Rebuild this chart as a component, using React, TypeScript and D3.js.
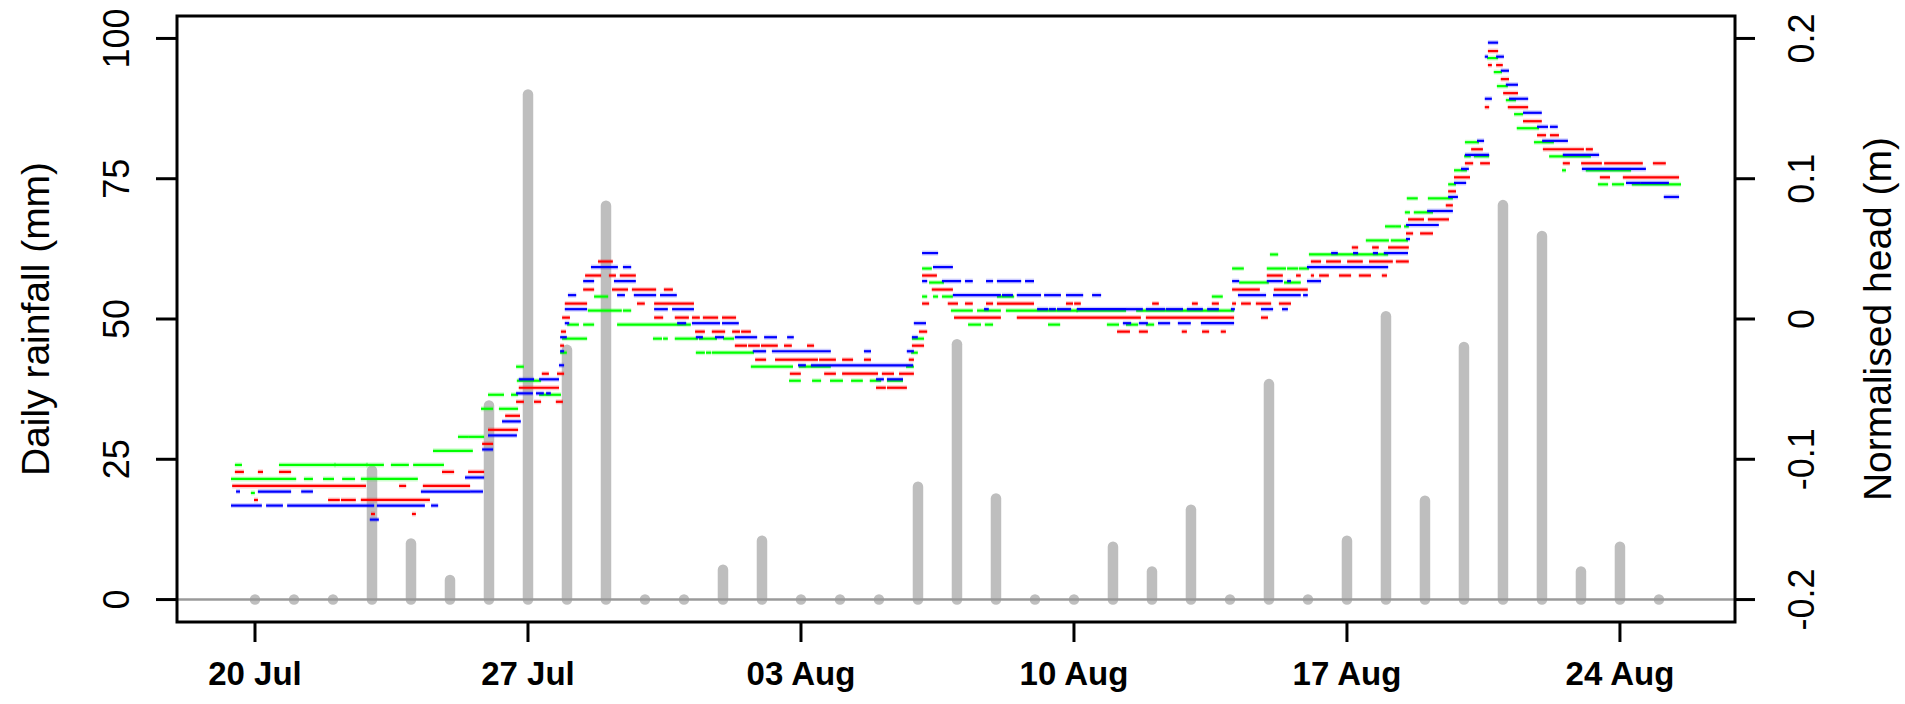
import React from "react";
import * as d3 from "d3";

// ---- data ------------------------------------------------------------
// Daily rainfall (mm), one value per day starting 20 Jul 2015
const rainStart = "2015-07-20";
const rainfall = [
  0, 0, 0, 23, 10, 3.5, 34.6, 90, 44.5, 70.2, 0, 0, 5.3, 10.5, 0, 0, 0, 20.1,
  45.5, 18, 0, 0, 9.4, 5, 16, 0, 38.4, 0, 10.5, 50.5, 17.6, 45, 70.3, 64.8, 5,
  9.4, 0,
];

// Logger readings of normalised head (m). Each entry is a run of
// consecutive readings at one level: [start day, end day, head],
// days counted from 20 Jul 00:00.
type Run = [number, number, number];

const headGreen: Run[] = [
  [-0.59, 1.03, -0.114], [-0.49, -0.36, -0.104], [-0.08, -0.03, -0.124],
  [0.64, 1.36, -0.104], [1.28, 1.46, -0.114], [1.41, 2.05, -0.104],
  [1.77, 2.0, -0.114], [2.05, 2.87, -0.104], [2.26, 2.54, -0.114],
  [2.87, 3.28, -0.104], [2.74, 4.15, -0.114], [3.51, 3.92, -0.104],
  [4.08, 4.82, -0.104], [4.59, 5.56, -0.094], [5.23, 5.44, -0.084],
  [5.49, 5.85, -0.084], [5.82, 6.08, -0.064], [6.28, 6.72, -0.064],
  [6.0, 6.36, -0.054], [6.59, 6.72, -0.054], [6.72, 6.87, -0.034],
  [6.74, 7.31, -0.044], [7.31, 7.82, -0.054], [7.85, 7.97, -0.024],
  [7.9, 8.49, -0.014], [8.03, 8.28, -0.004], [8.44, 8.67, -0.004],
  [8.56, 8.9, 0.006], [8.95, 9.38, 0.006], [9.46, 9.62, 0.006],
  [8.72, 9.03, 0.016], [9.31, 10.95, -0.004], [11.0, 11.15, -0.004],
  [10.23, 10.41, -0.014], [10.49, 10.56, -0.014], [10.79, 11.33, -0.014],
  [11.41, 11.82, -0.014], [12.03, 12.26, -0.014], [11.33, 11.51, -0.024],
  [11.59, 11.67, -0.024], [11.74, 12.77, -0.024], [12.74, 13.77, -0.034],
  [13.97, 14.74, -0.034], [13.72, 13.97, -0.044], [14.31, 14.49, -0.044],
  [14.77, 15.05, -0.044], [15.31, 15.56, -0.044], [15.79, 16.03, -0.044],
  [16.23, 16.59, -0.044], [16.72, 16.87, -0.034], [16.85, 16.97, -0.024],
  [16.87, 17.13, -0.014], [17.13, 17.33, 0.036], [17.31, 17.64, 0.026],
  [17.13, 17.21, 0.016], [17.41, 17.49, 0.016], [17.64, 17.87, 0.016],
  [17.87, 18.38, 0.006], [18.54, 19.1, 0.006], [19.28, 21.08, 0.006],
  [18.31, 18.59, -0.004], [18.74, 18.9, -0.004], [20.36, 20.62, -0.004],
  [19.05, 19.44, 0.016], [21.08, 22.31, 0.006], [22.62, 25.08, 0.006],
  [21.87, 22.13, -0.004], [22.36, 22.62, -0.004], [22.87, 23.03, -0.004],
  [24.56, 24.79, 0.016], [25.08, 25.33, 0.036], [25.26, 25.97, 0.026],
  [26.41, 26.79, 0.026], [26.05, 26.21, 0.046], [25.97, 26.41, 0.036],
  [26.49, 26.72, 0.036], [26.79, 27.0, 0.036], [27.05, 29.03, 0.046],
  [28.51, 29.05, 0.056], [29.15, 29.54, 0.056], [29.0, 29.23, 0.066],
  [29.28, 29.36, 0.066], [29.49, 29.56, 0.066], [29.51, 29.59, 0.076],
  [29.74, 30.18, 0.076], [29.56, 29.79, 0.086], [30.1, 30.69, 0.086],
  [30.62, 30.77, 0.096], [30.77, 31.05, 0.106], [31.03, 31.15, 0.116],
  [31.28, 31.62, 0.116], [31.05, 31.36, 0.126], [31.62, 31.85, 0.186],
  [31.79, 31.95, 0.176], [31.87, 32.1, 0.166], [32.1, 32.31, 0.156],
  [32.31, 32.49, 0.146], [32.38, 32.9, 0.136], [32.82, 33.28, 0.126],
  [33.21, 34.23, 0.116], [33.54, 33.59, 0.106], [34.15, 35.26, 0.106],
  [34.46, 34.67, 0.096], [34.82, 35.08, 0.096], [35.33, 36.54, 0.096],
];

const headRed: Run[] = [
  [-0.56, 2.82, -0.119], [-0.49, -0.31, -0.109], [0.1, 0.18, -0.109],
  [0.64, 0.9, -0.109], [0.0, 0.05, -0.129], [1.9, 2.15, -0.129],
  [2.23, 2.56, -0.129], [2.74, 4.46, -0.129], [3.0, 3.05, -0.139],
  [4.05, 4.1, -0.139], [3.72, 3.85, -0.119], [4.33, 5.49, -0.119],
  [4.82, 5.08, -0.109], [5.49, 5.85, -0.109], [5.85, 6.08, -0.089],
  [6.0, 6.72, -0.079], [6.44, 6.77, -0.069], [6.72, 6.87, -0.059],
  [7.18, 7.31, -0.059], [7.74, 7.87, -0.059], [6.79, 7.77, -0.049],
  [7.38, 7.51, -0.039], [7.77, 7.9, -0.039], [7.85, 7.9, -0.019],
  [7.87, 7.95, -0.009], [7.9, 8.05, 0.001], [7.97, 8.49, 0.011],
  [8.44, 8.67, 0.021], [9.18, 9.54, 0.021], [8.49, 8.85, 0.031],
  [9.1, 9.23, 0.031], [9.38, 9.74, 0.031], [8.82, 9.15, 0.041],
  [9.69, 10.26, 0.021], [10.51, 10.69, 0.021], [9.82, 9.97, 0.011],
  [10.26, 10.59, 0.011], [10.64, 10.95, 0.011], [11.0, 11.23, 0.011],
  [10.26, 10.44, 0.001], [10.79, 11.1, 0.001], [11.23, 11.38, 0.001],
  [11.51, 11.85, 0.001], [12.0, 12.31, 0.001], [11.31, 11.51, -0.009],
  [11.74, 12.03, -0.009], [12.26, 12.41, -0.009], [12.49, 12.69, -0.009],
  [12.33, 12.59, -0.019], [12.67, 12.92, -0.019], [13.0, 13.38, -0.019],
  [13.59, 13.74, -0.019], [14.18, 14.31, -0.019], [12.85, 13.08, -0.029],
  [13.36, 13.9, -0.029], [13.95, 14.41, -0.029], [14.49, 14.87, -0.029],
  [15.08, 15.31, -0.029], [15.64, 15.77, -0.029], [16.79, 16.87, -0.029],
  [13.74, 13.97, -0.039], [14.62, 14.87, -0.039], [15.08, 15.95, -0.039],
  [16.1, 16.36, -0.039], [16.54, 16.87, -0.039], [15.95, 16.15, -0.049],
  [16.23, 16.69, -0.049], [16.87, 17.13, -0.019], [17.05, 17.21, -0.009],
  [17.13, 17.26, 0.011], [17.13, 17.46, 0.031], [17.38, 17.87, 0.021],
  [17.79, 18.0, 0.011], [18.23, 18.38, 0.011], [18.77, 18.9, 0.011],
  [19.05, 19.95, 0.011], [20.82, 20.95, 0.011], [21.03, 21.15, 0.011],
  [17.95, 19.1, 0.001], [19.56, 22.69, 0.001], [22.87, 25.08, 0.001],
  [22.13, 22.18, -0.009], [22.23, 22.41, -0.009], [22.69, 22.87, -0.009],
  [23.79, 23.87, -0.009], [24.31, 24.44, -0.009], [24.79, 24.87, -0.009],
  [23.03, 23.15, 0.011], [24.05, 24.15, 0.011], [24.56, 24.69, 0.011],
  [25.08, 25.74, 0.021], [26.15, 26.97, 0.021], [25.08, 25.13, 0.011],
  [25.31, 25.51, 0.011], [25.69, 26.03, 0.011], [26.28, 26.54, 0.011],
  [25.82, 25.95, 0.001], [25.97, 26.33, 0.031], [26.72, 26.79, 0.031],
  [27.1, 27.13, 0.031], [27.31, 27.51, 0.031], [27.82, 28.08, 0.031],
  [28.33, 28.59, 0.031], [28.92, 29.0, 0.031], [27.1, 27.31, 0.041],
  [27.49, 27.82, 0.041], [28.03, 28.38, 0.041], [28.59, 29.15, 0.041],
  [29.28, 29.56, 0.041], [28.15, 28.26, 0.051], [28.67, 28.79, 0.051],
  [29.08, 29.56, 0.051], [29.54, 29.67, 0.061], [29.9, 30.18, 0.061],
  [29.59, 29.95, 0.071], [30.1, 30.59, 0.071], [30.56, 30.69, 0.081],
  [30.62, 30.77, 0.091], [30.77, 31.13, 0.101], [31.05, 31.21, 0.111],
  [31.44, 31.64, 0.111], [31.21, 31.46, 0.121], [31.56, 31.62, 0.151],
  [31.64, 31.85, 0.191], [31.64, 31.69, 0.181], [31.85, 31.97, 0.181],
  [31.97, 32.13, 0.171], [32.03, 32.36, 0.161], [32.15, 32.62, 0.151],
  [32.54, 32.97, 0.141], [32.9, 33.08, 0.131], [33.23, 33.41, 0.131],
  [33.05, 34.05, 0.121], [34.15, 34.28, 0.121], [33.56, 33.69, 0.111],
  [34.03, 34.51, 0.111], [34.62, 35.13, 0.111], [35.18, 35.56, 0.111],
  [35.87, 36.15, 0.111], [34.51, 34.72, 0.101], [35.1, 36.49, 0.101],
];

const headBlue: Run[] = [
  [-0.59, 0.15, -0.133], [0.31, 0.69, -0.133], [0.85, 3.03, -0.133],
  [3.15, 4.33, -0.133], [4.54, 4.67, -0.133], [-0.46, -0.41, -0.123],
  [0.1, 0.9, -0.123], [1.21, 1.46, -0.123], [4.28, 5.49, -0.123],
  [5.54, 5.82, -0.123], [2.97, 3.15, -0.143], [5.41, 5.85, -0.113],
  [5.85, 6.08, -0.093], [6.0, 6.69, -0.083], [6.36, 6.79, -0.073],
  [6.72, 6.95, -0.053], [7.0, 7.1, -0.053], [7.23, 7.38, -0.053],
  [7.49, 7.56, -0.053], [6.79, 7.13, -0.043], [7.31, 7.77, -0.043],
  [7.82, 7.9, -0.033], [7.85, 7.9, -0.023], [7.85, 7.97, -0.013],
  [7.97, 8.03, -0.003], [7.97, 8.49, 0.007], [8.05, 8.21, 0.017],
  [8.44, 8.67, 0.027], [9.23, 9.74, 0.027], [8.64, 9.28, 0.037],
  [9.46, 9.62, 0.037], [9.31, 9.46, 0.017], [9.74, 10.26, 0.017],
  [10.41, 10.79, 0.017], [10.26, 10.56, 0.007], [10.72, 11.23, 0.007],
  [10.85, 11.03, -0.003], [11.23, 11.9, -0.003], [12.0, 12.38, -0.003],
  [11.33, 11.46, -0.013], [11.82, 12.0, -0.013], [12.33, 12.85, -0.013],
  [13.08, 13.36, -0.013], [13.67, 13.79, -0.013], [12.79, 13.08, -0.023],
  [13.28, 14.74, -0.023], [15.64, 15.77, -0.023], [13.95, 14.1, -0.033],
  [14.28, 16.85, -0.033], [15.95, 16.1, -0.043], [16.23, 16.59, -0.043],
  [16.74, 16.87, -0.023], [16.87, 16.97, -0.013], [16.92, 17.18, -0.003],
  [17.13, 17.49, 0.047], [17.41, 17.87, 0.037], [17.13, 17.21, 0.027],
  [17.64, 18.08, 0.027], [18.23, 18.38, 0.027], [18.77, 18.9, 0.027],
  [19.05, 19.62, 0.027], [19.77, 19.95, 0.027], [17.92, 19.1, 0.017],
  [19.18, 19.41, 0.017], [19.56, 20.13, 0.017], [20.26, 20.64, 0.017],
  [20.82, 21.21, 0.017], [21.49, 21.67, 0.017], [18.72, 18.79, 0.007],
  [20.08, 20.31, 0.007], [20.38, 20.51, 0.007], [20.59, 20.9, 0.007],
  [21.1, 22.31, 0.007], [22.36, 22.74, 0.007], [22.87, 23.31, 0.007],
  [23.38, 23.77, 0.007], [23.92, 24.28, 0.007], [24.44, 24.69, 0.007],
  [25.05, 25.1, 0.007], [22.28, 22.44, -0.003], [22.69, 22.87, -0.003],
  [23.18, 23.44, -0.003], [23.69, 23.97, -0.003], [24.28, 25.08, -0.003],
  [25.08, 25.21, 0.027], [25.23, 25.9, 0.017], [26.13, 26.79, 0.017],
  [26.9, 26.97, 0.017], [25.82, 26.08, 0.007], [26.36, 26.46, 0.007],
  [25.97, 26.33, 0.027], [26.49, 26.54, 0.027], [27.0, 27.31, 0.027],
  [27.0, 29.03, 0.037], [27.62, 27.74, 0.047], [28.18, 28.26, 0.047],
  [28.69, 28.77, 0.047], [28.97, 29.54, 0.047], [29.54, 29.59, 0.057],
  [29.54, 30.33, 0.067], [30.08, 30.69, 0.077], [30.62, 30.82, 0.087],
  [30.77, 31.03, 0.097], [30.95, 31.1, 0.107], [31.05, 31.62, 0.117],
  [31.36, 31.49, 0.127], [31.56, 31.69, 0.157], [31.56, 31.59, 0.187],
  [31.64, 31.85, 0.197], [31.85, 32.0, 0.187], [31.97, 32.13, 0.177],
  [32.1, 32.36, 0.167], [32.18, 32.62, 0.157], [32.54, 32.97, 0.147],
  [32.9, 33.13, 0.137], [33.23, 33.38, 0.137], [33.03, 33.64, 0.127],
  [33.56, 34.44, 0.117], [34.05, 35.64, 0.107], [35.18, 35.51, 0.097],
  [35.56, 36.23, 0.097], [36.15, 36.49, 0.087],
];

const rainTicks = [0, 25, 50, 75, 100];
const headTicks = [-0.2, -0.1, 0, 0.1, 0.2];

// ---- layout ----------------------------------------------------------
const W = 1905;
const H = 704;
const M = { left: 177, right: 1735, top: 16, bottom: 622 };
const DAY = 86400000;
const FONT = "'Liberation Sans', Arial, Helvetica, sans-serif";

const t0 = new Date(rainStart + "T00:00:00Z").getTime();
const at = (d: number) => new Date(t0 + d * DAY);

const series: { runs: Run[]; color: string }[] = [
  { runs: headGreen, color: "#00ff00" },
  { runs: headRed, color: "#ff0000" },
  { runs: headBlue, color: "#0000ff" },
];

export default function App() {
  const x = d3
    .scaleUtc()
    .domain([at(-2.0), at(37.95)])
    .range([M.left, M.right]);
  const yRain = d3.scaleLinear().domain([-4, 104]).range([M.bottom, M.top]);
  const yHead = d3
    .scaleLinear()
    .domain([-0.2, 0.2])
    .range([yRain(0), yRain(100)]);

  const rainDays = rainfall.map((v, i) => ({ date: at(i), v }));
  const xTicks = x.ticks(d3.utcMonday.every(1)!);
  const fmt = d3.utcFormat("%d %b");

  return (
    <svg
      width={W}
      height={H}
      style={{ position: "absolute", left: 0, top: 0, background: "#fff" }}
      fontFamily={FONT}
    >
      <rect width={W} height={H} fill="#fff" />

      {/* daily rainfall as thick vertical lines */}
      <g stroke="#bebebe" strokeWidth={10.5} strokeLinecap="round">
        {rainDays.map((r, i) => (
          <line
            key={i}
            x1={x(r.date)}
            x2={x(r.date)}
            y1={yRain(0)}
            y2={yRain(r.v)}
          />
        ))}
      </g>
      <line
        x1={M.left}
        x2={M.right}
        y1={yRain(0)}
        y2={yRain(0)}
        stroke="#9a9a9a"
        strokeWidth={2.5}
      />

      {/* head readings */}
      {series.map((s, si) => (
        <g key={si}>
          <g stroke={s.color} strokeWidth={5} strokeOpacity={0.2}>
            {s.runs.map((r, i) => (
              <line
                key={i}
                x1={x(at(r[0])) - 1}
                x2={x(at(r[1])) + 1}
                y1={yHead(r[2])}
                y2={yHead(r[2])}
              />
            ))}
          </g>
          <g stroke={s.color} strokeWidth={2.2}>
            {s.runs.map((r, i) => (
              <line
                key={i}
                x1={x(at(r[0])) - 1}
                x2={x(at(r[1])) + 1}
                y1={yHead(r[2])}
                y2={yHead(r[2])}
              />
            ))}
          </g>
        </g>
      ))}

      {/* frame */}
      <rect
        x={M.left}
        y={M.top}
        width={M.right - M.left}
        height={M.bottom - M.top}
        fill="none"
        stroke="#000"
        strokeWidth={3}
      />

      {/* bottom axis */}
      {xTicks.map((t, i) => (
        <g key={i}>
          <line
            x1={x(t)}
            x2={x(t)}
            y1={M.bottom}
            y2={M.bottom + 20}
            stroke="#000"
            strokeWidth={3}
          />
          <text
            x={x(t)}
            y={685}
            textAnchor="middle"
            fontSize={33}
            fontWeight="bold"
            fill="#000"
          >
            {fmt(t)}
          </text>
        </g>
      ))}

      {/* left axis: rainfall */}
      {rainTicks.map((v) => (
        <g key={v}>
          <line
            x1={M.left - 21}
            x2={M.left}
            y1={yRain(v)}
            y2={yRain(v)}
            stroke="#000"
            strokeWidth={3}
          />
          <text
            transform={`translate(129,${yRain(v)}) rotate(-90)`}
            textAnchor="middle"
            fontSize={36}
            fill="#000"
          >
            {v}
          </text>
        </g>
      ))}
      <text
        transform={`translate(49,${(M.top + M.bottom) / 2}) rotate(-90)`}
        textAnchor="middle"
        fontSize={39}
        fill="#000"
      >
        Daily rainfall (mm)
      </text>

      {/* right axis: normalised head */}
      {headTicks.map((v) => (
        <g key={v}>
          <line
            x1={M.right}
            x2={M.right + 20}
            y1={yHead(v)}
            y2={yHead(v)}
            stroke="#000"
            strokeWidth={3}
          />
          <text
            transform={`translate(1814,${yHead(v)}) rotate(-90)`}
            textAnchor="middle"
            fontSize={36}
            fill="#000"
          >
            {v === 0 ? "0" : v.toFixed(1)}
          </text>
        </g>
      ))}
      <text
        transform={`translate(1891,${(M.top + M.bottom) / 2}) rotate(-90)`}
        textAnchor="middle"
        fontSize={39}
        fill="#000"
      >
        Normalised head (m)
      </text>
    </svg>
  );
}
